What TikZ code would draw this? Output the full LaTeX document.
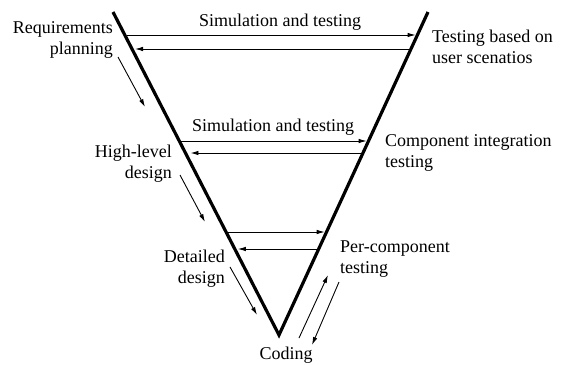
\documentclass[tikz,border=0pt]{standalone}
\usepackage{fontspec}
\setmainfont{Liberation Serif}
\usetikzlibrary{arrows.meta,calc}
\begin{document}
\begin{tikzpicture}[x=1pt,y=-1pt,
  every node/.style={inner sep=0pt,font=\fontsize{18}{20.5}\selectfont},
  vline/.style={line width=3.2pt,line join=miter,line cap=butt},
  flow/.style={line width=0.9pt,-{Latex[length=8pt,width=4.5pt]}},
  back/.style={flow,shorten >=3pt},
  lbl/.style={align=left,anchor=base west},
  rlbl/.style={align=right,anchor=base east}]
\useasboundingbox (0,0) rectangle (564,364);
% the V
\coordinate (L0) at (113,12);
\coordinate (R0) at (428,12);
\coordinate (V) at (279,335);
\draw[vline] (L0) -- (V) -- (R0);
% points on the two sides of the V at given heights
\foreach \n/\y in {a/35,b/49,c/141,d/153,e/232,f/249}{
  \coordinate (l\n) at ($(L0)!{(\y-12)/323}!(V)$);
  \coordinate (r\n) at ($(R0)!{(\y-12)/323}!(V)$);
}
% horizontal feedback arrows
\draw[flow,shorten <=1.8pt,shorten >=1.8pt] (la) -- (ra);
\draw[back,shorten <=1.8pt] (rb) -- (lb);
\draw[flow,shorten <=1.8pt,shorten >=1.8pt] (lc) -- (rc);
\draw[back,shorten <=1.8pt,shorten >=5pt] (rd) -- (ld);
\draw[flow,shorten <=1.8pt,shorten >=1.8pt] (le) -- (re);
\draw[back,shorten <=1.8pt] (rf) -- (lf);
% labels (anchors sit on the baseline of the last line)
\node (sim1) [anchor=base] at (280,26) {Simulation and testing};
\node (sim2) [anchor=base] at (273,131) {Simulation and testing};
\node (req) [rlbl] at (113,54) {Requirements\\planning};
\node (hld) [rlbl] at (172,178) {High-level\\design};
\node (dd) [rlbl] at (225,283) {Detailed\\design};
\node (tus) [lbl] at (432,63) {Testing based on\\user scenatios};
\node (cit) [lbl] at (385,167) {Component integration\\testing};
\node (pct) [lbl] at (340,273) {Per-component\\testing};
\node (cod) [anchor=base] at (286,359) {Coding};
% descending arrows along the left side
\coordinate (p1) at (118,57);  \coordinate (q1) at (145,107);
\coordinate (p2) at (180,175); \coordinate (q2) at (205,222);
\coordinate (p3) at (230,267); \coordinate (q3) at (257,315);
\draw[flow] (p1) -- (q1);
\draw[flow] (p2) -- (q2);
\draw[flow] (p3) -- (q3);
% coding <-> per-component testing
\coordinate (u1) at (299,338); \coordinate (u2) at (328,275);
\coordinate (d1) at (339,282); \coordinate (d2) at (312,345);
\draw[flow] (u1) -- (u2);
\draw[flow] (d1) -- (d2);
\end{tikzpicture}
\end{document}
